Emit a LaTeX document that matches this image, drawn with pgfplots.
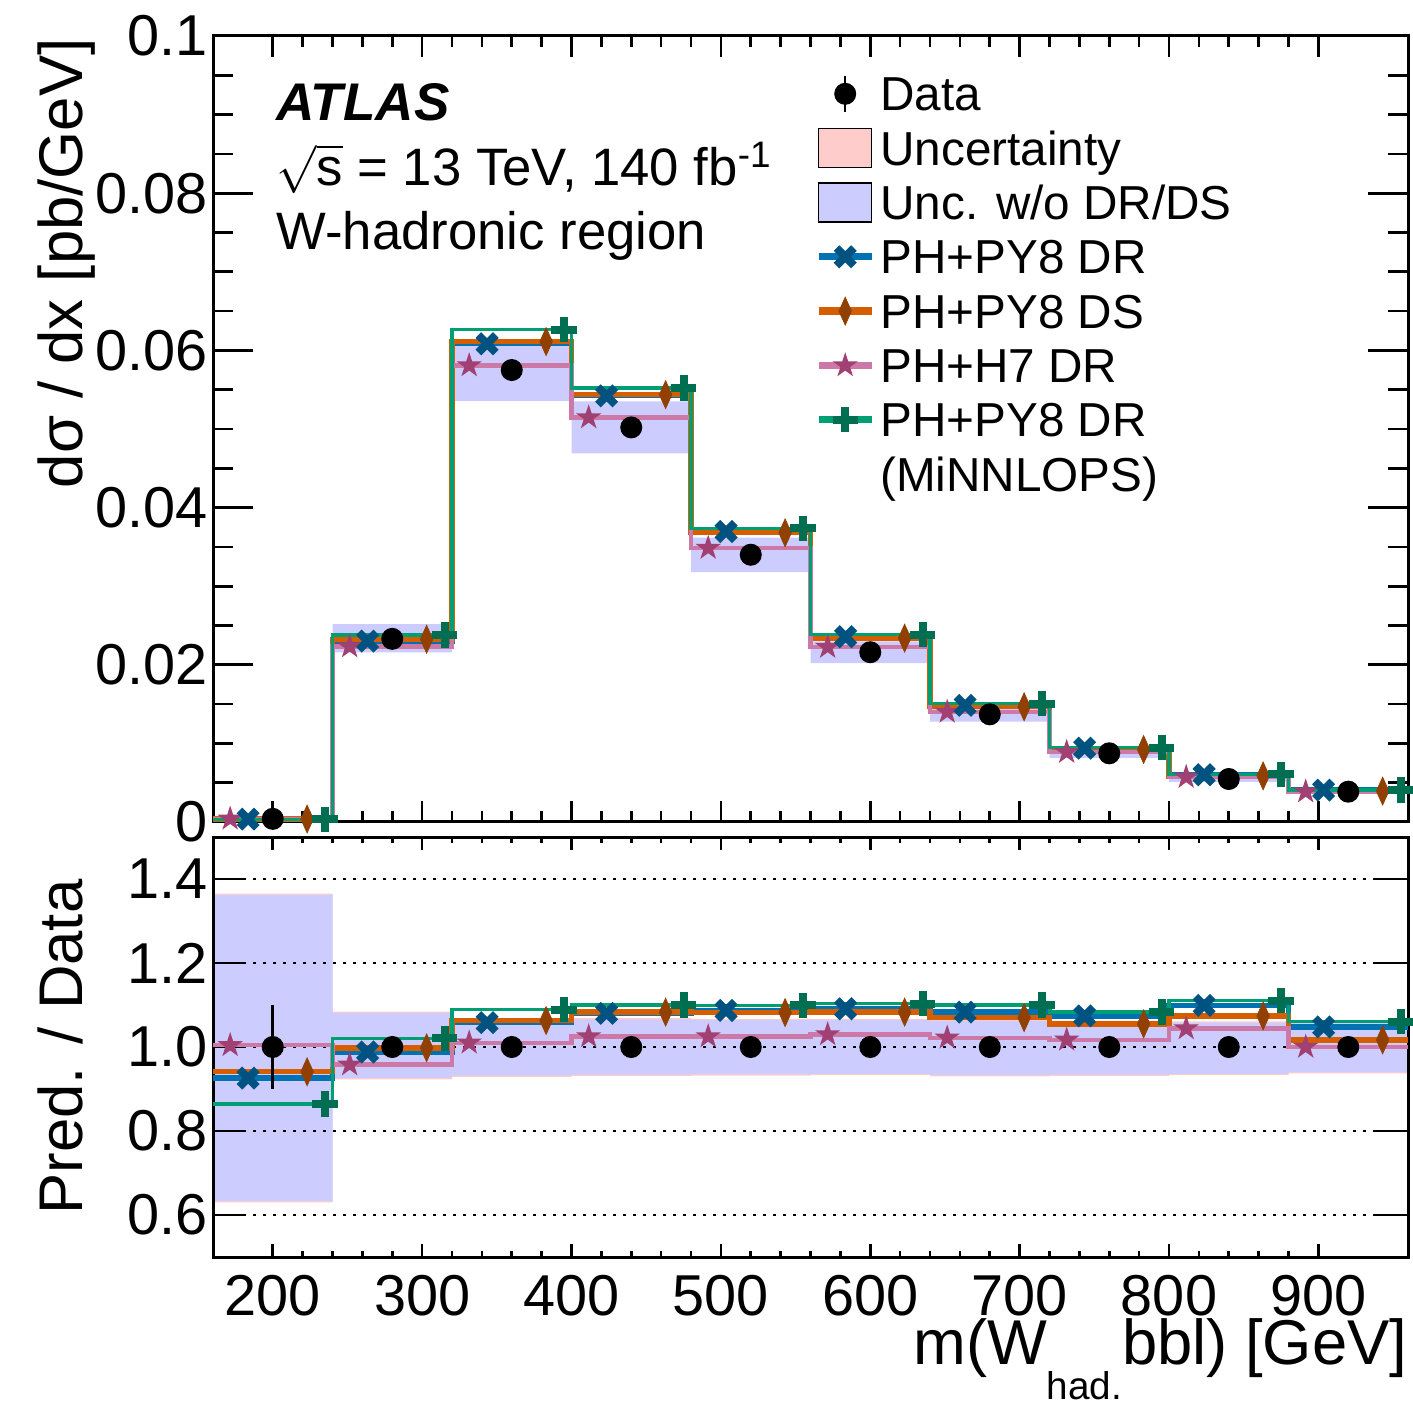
\documentclass[border=0pt]{standalone}
\usepackage{pgfplots}
\pgfplotsset{compat=1.18}
\usepackage{pgfplotstable}
\usepackage{fontspec}
\setmainfont{Liberation Sans}
\usetikzlibrary{plotmarks}

\definecolor{drline}{RGB}{0,114,178}
\definecolor{drmark}{RGB}{0,82,128}
\definecolor{dsline}{RGB}{213,94,0}
\definecolor{dsmark}{RGB}{145,64,0}
\definecolor{hline}{RGB}{204,121,167}
\definecolor{hmark}{RGB}{160,64,115}
\definecolor{mnline}{RGB}{0,158,115}
\definecolor{mnmark}{RGB}{0,110,80}
\definecolor{bandblue}{RGB}{204,204,255}
\definecolor{uncpink}{RGB}{255,204,204}

\pgfdeclareplotmark{fstar}{%
  \pgfpathmoveto{\pgfpoint{0pt}{\pgfplotmarksize}}%
  \pgfpathlineto{\pgfpoint{0.2245\pgfplotmarksize}{0.309\pgfplotmarksize}}%
  \pgfpathlineto{\pgfpoint{0.951\pgfplotmarksize}{0.309\pgfplotmarksize}}%
  \pgfpathlineto{\pgfpoint{0.363\pgfplotmarksize}{-0.118\pgfplotmarksize}}%
  \pgfpathlineto{\pgfpoint{0.588\pgfplotmarksize}{-0.809\pgfplotmarksize}}%
  \pgfpathlineto{\pgfpoint{0pt}{-0.382\pgfplotmarksize}}%
  \pgfpathlineto{\pgfpoint{-0.588\pgfplotmarksize}{-0.809\pgfplotmarksize}}%
  \pgfpathlineto{\pgfpoint{-0.363\pgfplotmarksize}{-0.118\pgfplotmarksize}}%
  \pgfpathlineto{\pgfpoint{-0.951\pgfplotmarksize}{0.309\pgfplotmarksize}}%
  \pgfpathlineto{\pgfpoint{-0.2245\pgfplotmarksize}{0.309\pgfplotmarksize}}%
  \pgfpathclose
  \pgfusepathqfill
}

\pgfplotstableread{
lo d derr dr ds h7 mn
160 0.0004 0.00004 0.00037 0.00038 0.00040 0.00035
240 0.0233 0.00047 0.02302 0.02325 0.02232 0.02379
320 0.0575 0.00092 0.06084 0.06112 0.05808 0.06262
400 0.0502 0.00080 0.05422 0.05437 0.05146 0.05522
480 0.0340 0.00054 0.03696 0.03679 0.03485 0.03737
560 0.0216 0.00039 0.02357 0.02339 0.02225 0.02382
640 0.0137 0.00027 0.01484 0.01466 0.01400 0.01507
720 0.00874 0.00019 0.00939 0.00922 0.00889 0.00947
800 0.00547 0.00012 0.00601 0.00587 0.00571 0.00607
880 0.00386 0.00010 0.00405 0.00393 0.00386 0.00409
960 0.00386 0.00010 0.00405 0.00393 0.00386 0.00409
}\tabtop

\pgfplotstableread{
lo d derr dr ds h7 mn
160 1 0.100 0.926 0.941 1.004 0.864
240 1 0.020 0.988 0.998 0.958 1.021
320 1 0.016 1.058 1.063 1.010 1.089
400 1 0.016 1.080 1.083 1.025 1.100
480 1 0.016 1.087 1.082 1.025 1.099
560 1 0.018 1.091 1.083 1.030 1.103
640 1 0.020 1.083 1.070 1.022 1.100
720 1 0.022 1.074 1.055 1.017 1.083
800 1 0.022 1.099 1.074 1.044 1.110
880 1 0.025 1.048 1.017 1.000 1.060
960 1 0.025 1.048 1.017 1.000 1.060
}\tabratio

\pgfplotsset{
  myaxis/.style={
    scale only axis, width=358.5pt, xmin=160, xmax=960,
    set layers,
    axis line style={line width=0.9pt},
    tick style={black, line width=0.8pt},
    tick align=inside,
    ticklabel style={font=\fontsize{17.3}{17.3}\selectfont},
    /pgf/number format/assume math mode=true,
    xtick={200,300,400,500,600,700,800,900},
    minor x tick num=4,
    yticklabel style={inner sep=0pt, xshift=-1.5pt},
    xticklabel style={inner sep=0pt, yshift=-5.4pt},
    label style={font=\fontsize{18.5}{18.5}\selectfont},
  },
  drhist/.style={forget plot, const plot, drline, line width=1.6pt},
  dshist/.style={forget plot, const plot, dsline, line width=1.6pt},
  hhist/.style={forget plot, const plot, hline, line width=1.3pt},
  mnhist/.style={forget plot, const plot, mnline, line width=1.0pt},
  drmk/.style={forget plot, only marks, mark=x, mark size=3.7pt, mark options={draw=drmark, line width=2.4pt}, skip coords between index={10}{11}},
  dsmk/.style={forget plot, only marks, mark=diamond*, mark size=4.2pt, mark options={xscale=0.6, draw=dsmark, fill=dsmark, line width=0.2pt}, skip coords between index={10}{11}},
  hmk/.style={forget plot, only marks, mark=fstar, mark size=4.0pt, mark options={fill=hmark}, skip coords between index={10}{11}},
  mnmk/.style={forget plot, only marks, mark=+, mark size=3.8pt, mark options={draw=mnmark, line width=2.4pt}, skip coords between index={10}{11}},
  datamk/.style={forget plot, only marks, black, mark=*, mark size=3.1pt, skip coords between index={10}{11},
    error bars/.cd, y dir=both, y explicit, error mark=none, error bar style={line width=0.9pt, black}},
  legline/.style={legend image code/.code={\draw[mark repeat=2,mark phase=2,##1] plot coordinates {(0pt,0pt) (7.95pt,0pt) (15.9pt,0pt)};}},
  legarea/.style={legend image code/.code={\fill[##1] (0pt,-5.85pt) rectangle (15.9pt,5.85pt);}},
  legdata/.style={legend image code/.code={\draw[black, line width=0.7pt] (7.95pt,-5.4pt) -- (7.95pt,5.4pt); \fill[black] (7.95pt,0pt) circle (3.1pt);}},
}

\begin{document}
\begin{tikzpicture}
\begin{axis}[myaxis, name=top, height=235.8pt,
  ymin=0, ymax=0.1,
  ytick={0,0.02,0.04,0.06,0.08,0.1},
  yticklabels={0,0.02,0.04,0.06,0.08,0.1},
  minor y tick num=3,
  xticklabels={,,,,,,,},
  xtick style={/pgfplots/major tick length=6.3pt, /pgfplots/minor tick length=3.3pt},
  ytick style={/pgfplots/major tick length=12pt, /pgfplots/minor tick length=6pt},
  ylabel={dσ / dx [pb/GeV]},
  ylabel style={at={(axis description cs:-0.1096,0.9975)}, anchor=base east, inner sep=0pt},
  legend cell align=left,
  legend style={draw=none, fill=none, inner sep=0pt, outer sep=0pt, row sep=0pt, column sep=1.5pt,
    at={(axis description cs:0.5038,0.9610)}, anchor=north west,
    nodes={inner sep=0pt, text height=13.3pt, text depth=3.0pt, font=\fontsize{14.3}{14.3}\selectfont}},
]
\addplot[forget plot, on layer=axis background, fill=bandblue, draw=none] coordinates {
(160,0.00054)(240,0.00054)(240,0.02519)(320,0.02519)(320,0.06130)(400,0.06130)(400,0.05351)(480,0.05351)(480,0.03618)(560,0.03618)(560,0.02298)(640,0.02298)(640,0.01455)(720,0.01455)(720,0.00926)(800,0.00926)(800,0.00579)(880,0.00579)(880,0.00408)(960,0.00408)
(960,0.00363)(880,0.00363)(880,0.00512)(800,0.00512)(800,0.00816)(720,0.00816)(720,0.01278)(640,0.01278)(640,0.02022)(560,0.02022)(560,0.03179)(480,0.03179)(480,0.04689)(400,0.04689)(400,0.05359)(320,0.05359)(320,0.02158)(240,0.02158)(240,0.00025)(160,0.00025)
} -- cycle;

\addplot[drhist] table[x=lo, y=dr]{\tabtop};
\addplot[dshist] table[x=lo, y=ds]{\tabtop};
\addplot[hhist] table[x=lo, y=h7]{\tabtop};
\addplot[mnhist] table[x=lo, y=mn]{\tabtop};

\addplot[hmk] table[x expr=\thisrow{lo}+11.5, y=h7]{\tabtop};
\addplot[drmk] table[x expr=\thisrow{lo}+23.5, y=dr]{\tabtop};
\addplot[dsmk] table[x expr=\thisrow{lo}+63, y=ds]{\tabtop};
\addplot[mnmk] table[x expr=\thisrow{lo}+75, y=mn]{\tabtop};
\addplot[datamk] table[x expr=\thisrow{lo}+40, y=d, y error=derr]{\tabtop};

\node[anchor=base west, inner sep=0pt, font=\fontsize{15.9}{15.9}\selectfont\bfseries\itshape] at (axis description cs:0.0527,0.893) {ATLAS};
\node[anchor=base west, inner sep=0pt, font=\fontsize{15.8}{15.8}\selectfont] at (axis description cs:0.0527,0.810) {$\sqrt{\mbox{s}}$ = 13 TeV, 140 fb\textsuperscript{-1}};
\node[anchor=base west, inner sep=0pt, font=\fontsize{15.8}{15.8}\selectfont] at (axis description cs:0.0527,0.728) {W-hadronic region};

\addlegendimage{legdata}
\addlegendentry{Data}
\addlegendimage{legarea, fill=uncpink}
\addlegendentry{Uncertainty}
\addlegendimage{legarea, fill=bandblue}
\addlegendentry{Unc. w/o DR/DS}
\addlegendimage{legline, drline, line width=2.2pt, mark=x, mark size=3.7pt, mark options={draw=drmark, line width=2.4pt}}
\addlegendentry{PH+PY8 DR}
\addlegendimage{legline, dsline, line width=2.2pt, mark=diamond*, mark size=4.2pt, mark options={xscale=0.6, draw=dsmark, fill=dsmark, line width=0.2pt}}
\addlegendentry{PH+PY8 DS}
\addlegendimage{legline, hline, line width=2.2pt, mark=fstar, mark size=4.0pt, mark options={fill=hmark}}
\addlegendentry{PH+H7 DR}
\addlegendimage{legline, mnline, line width=2.2pt, mark=+, mark size=3.8pt, mark options={draw=mnmark, line width=2.4pt}}
\addlegendentry{PH+PY8 DR}
\addlegendimage{empty legend}
\addlegendentry{(MiNNLOPS)}
\end{axis}

\path (top.south west) ++(0pt,-4.5pt) coordinate (bsw);

\begin{axis}[myaxis, name=bot, at={(bsw)}, anchor=north west, height=126pt,
  ymin=0.5, ymax=1.5,
  ytick={0.6,0.8,1.0,1.2,1.4},
  yticklabels={0.6,0.8,1.0,1.2,1.4},
  xticklabels={200,300,400,500,600,700,800,900},
  ymajorgrids,
  grid style={black, line width=0.6pt, dash pattern=on 0.9pt off 2.1pt},
  xtick style={/pgfplots/major tick length=4pt, /pgfplots/minor tick length=1.8pt},
  ytick style={/pgfplots/major tick length=10pt},
  ylabel={Pred. / Data},
  ylabel style={at={(axis description cs:-0.1096,0.5)}, anchor=base, inner sep=0pt},
  xlabel={m(W\raisebox{-0.55em}{\fontsize{11.6}{11.6}\selectfont had.}bbl) [GeV]},
  xlabel style={at={(axis description cs:1,-0.257)}, anchor=base east, inner sep=0pt, font=\fontsize{19}{19}\selectfont},
]
\addplot[forget plot, on layer=axis background, fill=uncpink, draw=none] coordinates {
(160,1.365)(240,1.365)(240,1.084)(320,1.084)(320,1.069)(480,1.069)(480,1.067)(640,1.067)(640,1.065)(720,1.065)(720,1.063)(800,1.063)(800,1.061)(960,1.061)
(960,0.937)(880,0.937)(880,0.933)(800,0.933)(800,0.931)(720,0.931)(720,0.930)(640,0.930)(640,0.933)(560,0.933)(560,0.932)(480,0.932)(480,0.931)(400,0.931)(400,0.929)(320,0.929)(320,0.923)(240,0.923)(240,0.630)(160,0.630)
} -- cycle;
\addplot[forget plot, on layer=axis background, fill=bandblue, draw=none] coordinates {
(160,1.362)(240,1.362)(240,1.081)(320,1.081)(320,1.066)(480,1.066)(480,1.064)(640,1.064)(640,1.062)(720,1.062)(720,1.060)(800,1.060)(800,1.058)(960,1.058)
(960,0.940)(880,0.940)(880,0.936)(800,0.936)(800,0.934)(720,0.934)(720,0.933)(640,0.933)(640,0.936)(560,0.936)(560,0.935)(480,0.935)(480,0.934)(400,0.934)(400,0.932)(320,0.932)(320,0.926)(240,0.926)(240,0.633)(160,0.633)
} -- cycle;

\addplot[drhist] table[x=lo, y=dr]{\tabratio};
\addplot[dshist] table[x=lo, y=ds]{\tabratio};
\addplot[hhist] table[x=lo, y=h7]{\tabratio};
\addplot[mnhist] table[x=lo, y=mn]{\tabratio};

\addplot[hmk] table[x expr=\thisrow{lo}+11.5, y=h7]{\tabratio};
\addplot[drmk] table[x expr=\thisrow{lo}+23.5, y=dr]{\tabratio};
\addplot[dsmk] table[x expr=\thisrow{lo}+63, y=ds]{\tabratio};
\addplot[mnmk] table[x expr=\thisrow{lo}+75, y=mn]{\tabratio};
\addplot[datamk] table[x expr=\thisrow{lo}+40, y=d, y error=derr]{\tabratio};
\end{axis}

\pgfresetboundingbox
\path ([xshift=-63.9pt,yshift=10.8pt]top.north west) rectangle ([xshift=1.5pt,yshift=-44.7pt]bot.south east);
\end{tikzpicture}
\end{document}
